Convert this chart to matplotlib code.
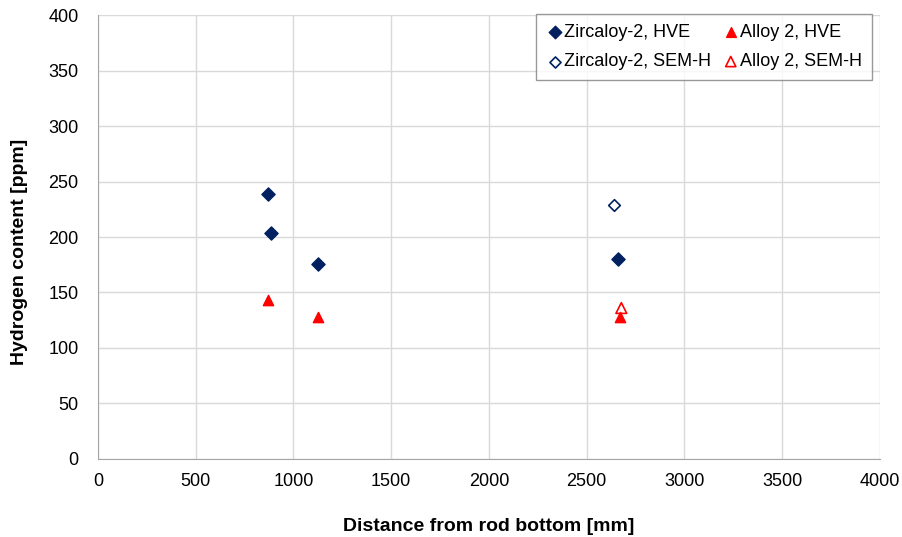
import matplotlib.pyplot as plt

plt.rcParams['font.family'] = ['Liberation Sans', 'DejaVu Sans']

# data
zr_hve_x = [870, 885, 1125, 2662]
zr_hve_y = [239, 204, 176, 180]
a2_hve_x = [868, 1124, 2670]
a2_hve_y = [143, 128, 128]
zr_sem_x = [2641]
zr_sem_y = [229]
a2_sem_x = [2677]
a2_sem_y = [136]

navy = '#002060'
red = '#ff0000'

fig = plt.figure(figsize=(9.02, 5.37), dpi=100)
ax = fig.add_axes([0.1086, 0.1453, 0.867, 0.8267])

h1 = ax.scatter(zr_hve_x, zr_hve_y, marker='D', s=45, color=navy, zorder=3)
h2 = ax.scatter(a2_hve_x, a2_hve_y, marker='^', s=55, color=red, zorder=3)
h3 = ax.scatter(zr_sem_x, zr_sem_y, marker='D', s=35, facecolor='white', edgecolor=navy,
                linewidth=1.2, zorder=3)
h4 = ax.scatter(a2_sem_x, a2_sem_y, marker='^', s=60, facecolor='none', edgecolor=red,
                linewidth=1.2, zorder=4)

ax.set_xlim(0, 4000)
ax.set_ylim(0, 400)
ax.set_xticks(range(0, 4001, 500))
ax.set_yticks(range(0, 401, 50))
ax.grid(True, color='#d9d9d9', linewidth=1)
ax.set_axisbelow(True)
for s in ['top', 'right']:
    ax.spines[s].set_visible(False)
for s in ['left', 'bottom']:
    ax.spines[s].set_color('#a6a6a6')
ax.tick_params(labelsize=13, length=0)
ax.tick_params(axis='y', pad=14)
ax.tick_params(axis='x', pad=10)

ax.set_xlabel('Distance from rod bottom [mm]', fontsize=14, fontweight='bold', labelpad=20)
ax.set_ylabel('Hydrogen content [ppm]', fontsize=14, fontweight='bold')
ax.yaxis.set_label_coords(-0.0895, 0.466)

leg = ax.legend([h1, h3, h2, h4],
                ['Zircaloy-2, HVE', 'Zircaloy-2, SEM-H', 'Alloy 2, HVE', 'Alloy 2, SEM-H'],
                ncol=2, loc='upper left', bbox_to_anchor=(0.560, 1.003),
                fontsize=13, frameon=True, fancybox=False,
                edgecolor='#808080', handletextpad=0.0, columnspacing=0.6,
                borderaxespad=0.0, handlelength=1.0, markerscale=0.95,
                labelspacing=0.7, borderpad=0.55)
leg.get_frame().set_linewidth(1)

fig.savefig('out.png', dpi=100)
